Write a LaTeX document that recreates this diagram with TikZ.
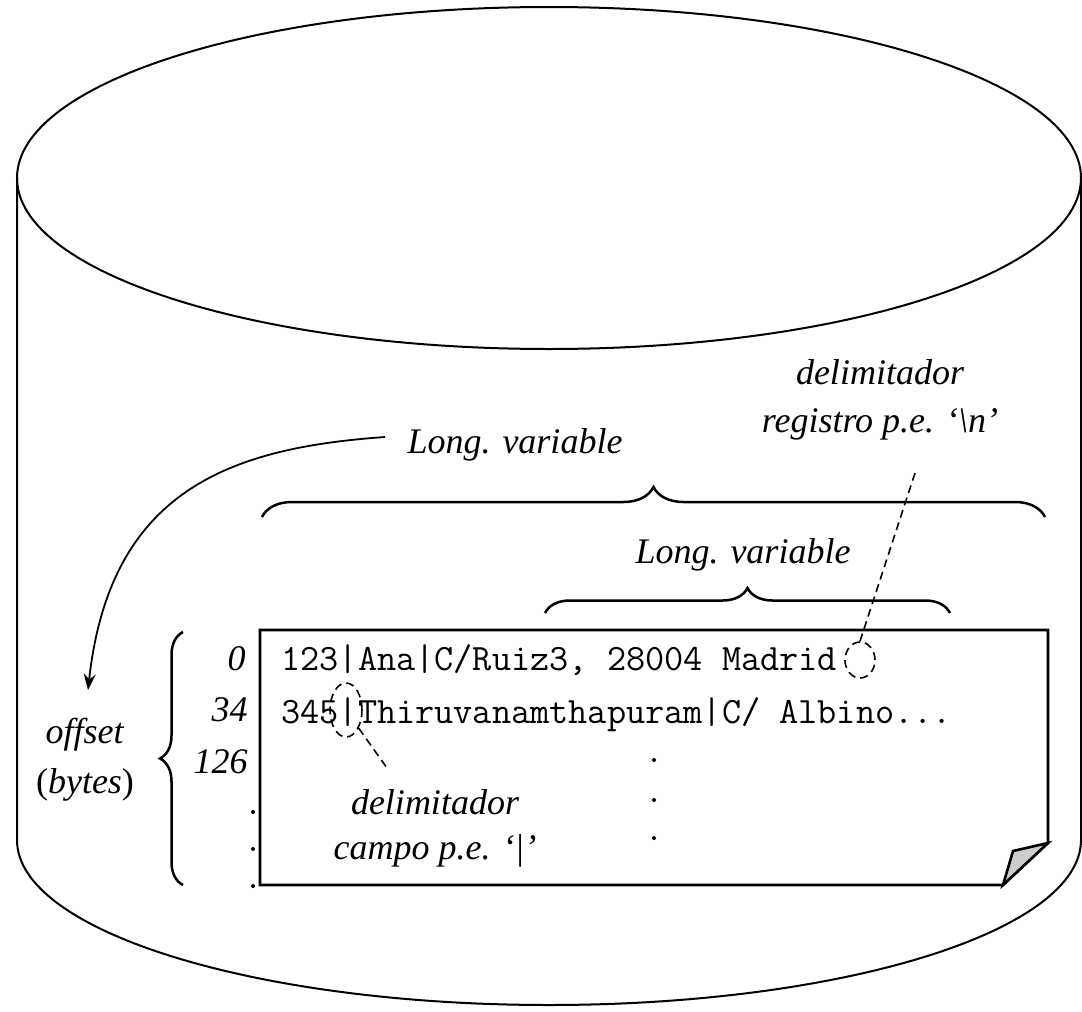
\documentclass[tikz,border=0pt]{standalone}
\usepackage{fontspec}
\setmainfont{Liberation Serif}
\usetikzlibrary{arrows.meta,positioning,decorations.pathreplacing,shapes.geometric}
\tikzset{
  % italic annotation text
  lbl/.style  = {font=\fontsize{18}{24}\selectfont\itshape, align=center, inner sep=1pt},
  % one stored record, typewriter text
  rec/.style  = {font=\fontsize{18.6}{20}\selectfont\ttfamily, anchor=base west, inner sep=0pt},
  offs/.style = {font=\fontsize{18}{20}\selectfont\itshape, anchor=base east, inner sep=0pt},
  brc/.style  = {decorate, decoration={brace, amplitude=#1}, line width=1.25pt},
  dsh/.style  = {dash pattern=on 4pt off 2.5pt, line width=0.8pt},
  delim/.style = {ellipse, draw, dsh, inner sep=0pt},
  arr/.style  = {-{Stealth[length=8pt,width=6pt]}, line width=0.9pt},
}

\begin{document}
\begin{tikzpicture}[x=0.5pt,y=-0.5pt]
\useasboundingbox (0,0) rectangle (1082,1012);
% disk
\draw[line width=1pt] (549,178) ellipse [x radius=532, y radius=171];
\draw[line width=1pt] (17,178) -- (17,840)
  arc[start angle=180, end angle=0, x radius=532, y radius=165] -- (1081,178);
% file page with folded corner
\draw[line width=1.3pt, fill=white] (260,630) -- (1048,630) -- (1048,843) -- (1003,885)
  -- (260,885) -- cycle;
\draw[line width=1.3pt, fill=black!20] (1048,843) -- (1013,851) -- (1003,885) -- cycle;
% records
\node[rec] (r1) at (281,670) {123|Ana|C/Ruiz3, 28004 Madrid};
\node[rec] (r2) at (281,723) {345|Thiruvanamthapuram|C/ Albino...};
\foreach \y in {760,800,838} \fill (654,\y) circle (2);
% offsets
\node[offs] (o0) at (246,670) {0};
\node[offs] (o1) at (248,721) {34};
\node[offs] (o2) at (248,773) {126};
\foreach \y in {812,849,886} \fill (253,\y) circle (2);
\draw[brc=11.5pt] (183,885) -- (183,632);
\node[lbl, font=\fontsize{18}{25}\selectfont] (off) at (85,760) {\textit{offset}\\(\textit{bytes})};
% record lengths
\draw[brc=15pt] (262,517) -- (1045,517);
\node[lbl] (lv1) at (515,445) {Long. variable};
\draw[brc=12.5pt] (545,613) -- (950,613);
\node[lbl] (lv2) at (743,555) {Long. variable};
\coordinate (lvs) at (385,437);
\coordinate (offtip) at (88,690);
\draw[arr] (lvs) .. controls (230,448) and (110,490) .. (offtip);
% delimiters
\node[delim, minimum width=15pt, minimum height=18pt] (dreg) at (860,660) {};
\node[lbl] (treg) at (880,400) {delimitador\\registro p.e. ‘\textbackslash n’};
\coordinate (treg end) at (915,473);
\draw[dsh] (treg end) -- (dreg.north);
\node[delim, minimum width=16pt, minimum height=27pt] (dcam) at (346,710) {};
\node[lbl, font=\fontsize{18}{22.5}\selectfont\itshape] (tcam) at (435,828) {delimitador\\campo p.e. ‘|’};
\coordinate (tcam end) at (387,768);
\draw[dsh] (dcam.-55) -- (tcam end);
\end{tikzpicture}
\end{document}
